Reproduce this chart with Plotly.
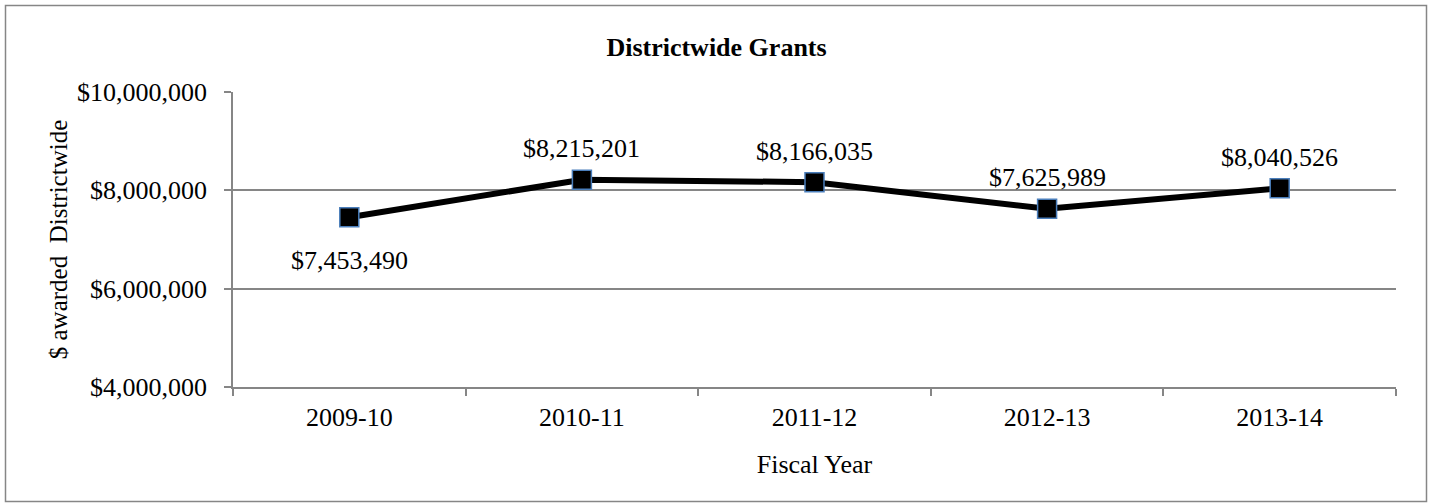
import plotly.graph_objects as go

# Districtwide grant totals by fiscal year
fiscal_years = ["2009-10", "2010-11", "2011-12", "2012-13", "2013-14"]
grants_awarded = [7453490, 8215201, 8166035, 7625989, 8040526]
label_above = [False, True, True, True, True]

y_tick_values = [4000000, 6000000, 8000000, 10000000]
y_tick_labels = ["$4,000,000", "$6,000,000", "$8,000,000", "$10,000,000"]

FONT = "Liberation Serif, Times New Roman, serif"
AXIS_GRAY = "#868686"

W, H = 1433, 504
ML, MR, MT, MB = 233, 37, 92, 117

fig = go.Figure()
fig.add_trace(go.Scatter(
    x=fiscal_years,
    y=grants_awarded,
    mode="lines+markers",
    line=dict(color="black", width=6),
    marker=dict(symbol="square", size=19, color="black",
                line=dict(color="#4a7ebb", width=1.5)),
    hoverinfo="skip",
    showlegend=False,
))

# Value labels on each point
for fy, val, above in zip(fiscal_years, grants_awarded, label_above):
    fig.add_annotation(
        x=fy, y=val, text=f"${val:,}", showarrow=False,
        yshift=31 if above else -43,
        font=dict(family=FONT, size=26, color="black"),
    )

# Outer chart border (pixel positions converted to paper coordinates)
pw, ph = W - ML - MR, H - MT - MB
def px_to_paper_x(px):
    return (px - ML) / pw
def px_to_paper_y(py):
    return (H - MB - py) / ph

fig.add_shape(
    type="rect", xref="paper", yref="paper",
    x0=px_to_paper_x(5.5), x1=px_to_paper_x(1426.5),
    y0=px_to_paper_y(501.5), y1=px_to_paper_y(5.5),
    line=dict(color=AXIS_GRAY, width=1.5), fillcolor="rgba(0,0,0,0)",
    layer="below",
)

fig.update_layout(
    width=W, height=H,
    margin=dict(l=ML, r=MR, t=MT, b=MB, pad=0),
    paper_bgcolor="white", plot_bgcolor="white",
    font=dict(family=FONT, size=26, color="black"),
    title=dict(text="<b>Districtwide Grants</b>", x=0.5, xanchor="center",
               y=1 - 47 / H, yanchor="middle",
               font=dict(family=FONT, size=26, color="black")),
)

fig.update_xaxes(
    type="category",
    range=[-0.5, len(fiscal_years) - 0.5],
    showline=True, linecolor=AXIS_GRAY, linewidth=1.5,
    ticks="outside", tickson="boundaries", ticklen=7,
    tickcolor=AXIS_GRAY, tickwidth=1.5,
    showgrid=False,
    tickfont=dict(family=FONT, size=26),
    ticklabelstandoff=6,
    title=dict(text="Fiscal Year", font=dict(family=FONT, size=26), standoff=24),
)

fig.update_yaxes(
    range=[4000000, 10000000],
    tickvals=y_tick_values, ticktext=y_tick_labels,
    showline=True, linecolor=AXIS_GRAY, linewidth=1.5,
    ticks="outside", ticklen=7, tickcolor=AXIS_GRAY, tickwidth=1.5,
    showgrid=True, gridcolor=AXIS_GRAY, gridwidth=1.5,
    zeroline=False,
    tickfont=dict(family=FONT, size=26),
    ticklabelstandoff=12,
    title=dict(text="$ awarded  Districtwide", font=dict(family=FONT, size=25), standoff=2),
)

fig.write_html("out.html")
